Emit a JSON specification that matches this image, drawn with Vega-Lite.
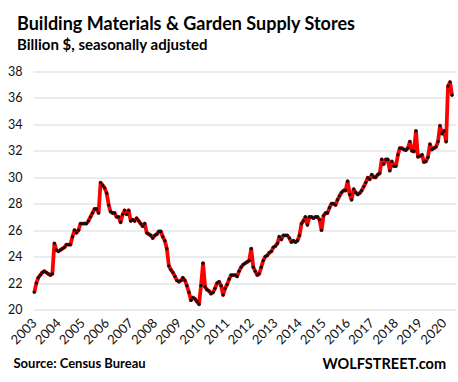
{
  "$schema": "https://vega.github.io/schema/vega-lite/v6.json",
  "width": 423,
  "height": 238,
  "autosize": {"type": "none"},
  "padding": {"left": 33, "top": 71.5, "right": 2, "bottom": 72.5},
  "background": "white",
  "title": {
    "text": "Building Materials & Garden Supply Stores",
    "subtitle": "Billion $, seasonally adjusted",
    "anchor": "start",
    "frame": "group",
    "dx": -16,
    "offset": 13,
    "font": "Lato",
    "fontSize": 18,
    "fontWeight": "bold",
    "color": "#000000",
    "subtitleFont": "Lato",
    "subtitleFontSize": 15,
    "subtitleFontWeight": "bold",
    "subtitleColor": "#000000",
    "subtitlePadding": 4
  },
  "data": {
    "values": [
      {"d":"2003-01","v":21.3},{"d":"2003-02","v":22.0},{"d":"2003-03","v":22.4},{"d":"2003-04","v":22.6},{"d":"2003-05","v":22.8},{"d":"2003-06","v":22.9},{"d":"2003-07","v":22.8},{"d":"2003-08","v":22.7},{"d":"2003-09","v":22.6},{"d":"2003-10","v":22.7},{"d":"2003-11","v":25.0},{"d":"2003-12","v":24.5},
      {"d":"2004-01","v":24.4},{"d":"2004-02","v":24.5},{"d":"2004-03","v":24.6},{"d":"2004-04","v":24.7},{"d":"2004-05","v":24.9},{"d":"2004-06","v":24.9},{"d":"2004-07","v":24.9},{"d":"2004-08","v":25.5},{"d":"2004-09","v":26.0},{"d":"2004-10","v":25.8},{"d":"2004-11","v":26.0},{"d":"2004-12","v":26.5},
      {"d":"2005-01","v":26.5},{"d":"2005-02","v":26.5},{"d":"2005-03","v":26.5},{"d":"2005-04","v":26.7},{"d":"2005-05","v":27.0},{"d":"2005-06","v":27.3},{"d":"2005-07","v":27.6},{"d":"2005-08","v":27.6},{"d":"2005-09","v":27.3},{"d":"2005-10","v":29.6},{"d":"2005-11","v":29.4},{"d":"2005-12","v":29.2},
      {"d":"2006-01","v":28.8},{"d":"2006-02","v":27.9},{"d":"2006-03","v":27.4},{"d":"2006-04","v":27.3},{"d":"2006-05","v":27.3},{"d":"2006-06","v":27.0},{"d":"2006-07","v":27.0},{"d":"2006-08","v":26.6},{"d":"2006-09","v":27.2},{"d":"2006-10","v":27.5},{"d":"2006-11","v":27.2},{"d":"2006-12","v":27.5},
      {"d":"2007-01","v":26.7},{"d":"2007-02","v":26.8},{"d":"2007-03","v":26.7},{"d":"2007-04","v":26.9},{"d":"2007-05","v":26.7},{"d":"2007-06","v":26.5},{"d":"2007-07","v":26.3},{"d":"2007-08","v":26.5},{"d":"2007-09","v":25.8},{"d":"2007-10","v":25.7},{"d":"2007-11","v":25.6},{"d":"2007-12","v":25.4},
      {"d":"2008-01","v":25.6},{"d":"2008-02","v":25.7},{"d":"2008-03","v":25.9},{"d":"2008-04","v":25.9},{"d":"2008-05","v":25.5},{"d":"2008-06","v":25.2},{"d":"2008-07","v":24.6},{"d":"2008-08","v":23.3},{"d":"2008-09","v":23.0},{"d":"2008-10","v":22.8},{"d":"2008-11","v":22.5},{"d":"2008-12","v":22.2},
      {"d":"2009-01","v":22.1},{"d":"2009-02","v":22.2},{"d":"2009-03","v":22.4},{"d":"2009-04","v":22.2},{"d":"2009-05","v":21.8},{"d":"2009-06","v":21.3},{"d":"2009-07","v":20.7},{"d":"2009-08","v":20.9},{"d":"2009-09","v":20.8},{"d":"2009-10","v":20.6},{"d":"2009-11","v":20.4},{"d":"2009-12","v":21.8},
      {"d":"2010-01","v":23.5},{"d":"2010-02","v":21.7},{"d":"2010-03","v":21.5},{"d":"2010-04","v":21.4},{"d":"2010-05","v":21.2},{"d":"2010-06","v":21.3},{"d":"2010-07","v":21.6},{"d":"2010-08","v":22.0},{"d":"2010-09","v":22.1},{"d":"2010-10","v":21.8},{"d":"2010-11","v":21.1},{"d":"2010-12","v":21.6},
      {"d":"2011-01","v":21.9},{"d":"2011-02","v":22.3},{"d":"2011-03","v":22.6},{"d":"2011-04","v":22.6},{"d":"2011-05","v":22.6},{"d":"2011-06","v":22.5},{"d":"2011-07","v":22.9},{"d":"2011-08","v":23.2},{"d":"2011-09","v":23.4},{"d":"2011-10","v":23.5},{"d":"2011-11","v":23.6},{"d":"2011-12","v":23.7},
      {"d":"2012-01","v":24.6},{"d":"2012-02","v":23.2},{"d":"2012-03","v":22.9},{"d":"2012-04","v":22.6},{"d":"2012-05","v":22.7},{"d":"2012-06","v":23.2},{"d":"2012-07","v":23.7},{"d":"2012-08","v":24.0},{"d":"2012-09","v":24.1},{"d":"2012-10","v":24.3},{"d":"2012-11","v":24.4},{"d":"2012-12","v":24.7},
      {"d":"2013-01","v":24.8},{"d":"2013-02","v":25.0},{"d":"2013-03","v":25.5},{"d":"2013-04","v":25.3},{"d":"2013-05","v":25.6},{"d":"2013-06","v":25.6},{"d":"2013-07","v":25.6},{"d":"2013-08","v":25.4},{"d":"2013-09","v":25.1},{"d":"2013-10","v":25.2},{"d":"2013-11","v":25.1},{"d":"2013-12","v":25.2},
      {"d":"2014-01","v":25.6},{"d":"2014-02","v":26.5},{"d":"2014-03","v":26.7},{"d":"2014-04","v":27.0},{"d":"2014-05","v":26.4},{"d":"2014-06","v":27.0},{"d":"2014-07","v":27.0},{"d":"2014-08","v":26.9},{"d":"2014-09","v":27.0},{"d":"2014-10","v":27.0},{"d":"2014-11","v":26.8},{"d":"2014-12","v":26.0},
      {"d":"2015-01","v":27.1},{"d":"2015-02","v":27.3},{"d":"2015-03","v":27.3},{"d":"2015-04","v":27.7},{"d":"2015-05","v":28.0},{"d":"2015-06","v":28.0},{"d":"2015-07","v":27.9},{"d":"2015-08","v":28.3},{"d":"2015-09","v":28.6},{"d":"2015-10","v":28.85},{"d":"2015-11","v":29.0},{"d":"2015-12","v":29.0},
      {"d":"2016-01","v":29.7},{"d":"2016-02","v":28.7},{"d":"2016-03","v":28.3},{"d":"2016-04","v":29.1},{"d":"2016-05","v":28.85},{"d":"2016-06","v":28.7},{"d":"2016-07","v":28.8},{"d":"2016-08","v":29.0},{"d":"2016-09","v":29.3},{"d":"2016-10","v":29.6},{"d":"2016-11","v":29.97},{"d":"2016-12","v":29.85},
      {"d":"2017-01","v":30.2},{"d":"2017-02","v":30.0},{"d":"2017-03","v":30.0},{"d":"2017-04","v":30.2},{"d":"2017-05","v":30.3},{"d":"2017-06","v":31.35},{"d":"2017-07","v":31.0},{"d":"2017-08","v":31.35},{"d":"2017-09","v":31.35},{"d":"2017-10","v":30.5},{"d":"2017-11","v":31.2},{"d":"2017-12","v":30.85},
      {"d":"2018-01","v":30.85},{"d":"2018-02","v":31.7},{"d":"2018-03","v":32.2},{"d":"2018-04","v":32.2},{"d":"2018-05","v":32.1},{"d":"2018-06","v":32.05},{"d":"2018-07","v":32.2},{"d":"2018-08","v":32.7},{"d":"2018-09","v":32.0},{"d":"2018-10","v":31.95},{"d":"2018-11","v":33.5},{"d":"2018-12","v":31.55},
      {"d":"2019-01","v":31.6},{"d":"2019-02","v":31.7},{"d":"2019-03","v":31.15},{"d":"2019-04","v":31.2},{"d":"2019-05","v":31.5},{"d":"2019-06","v":32.5},{"d":"2019-07","v":32.1},{"d":"2019-08","v":32.2},{"d":"2019-09","v":32.3},{"d":"2019-10","v":32.7},{"d":"2019-11","v":33.9},{"d":"2019-12","v":33.3},
      {"d":"2020-01","v":33.5},{"d":"2020-02","v":32.7},{"d":"2020-03","v":36.9},{"d":"2020-04","v":37.2},{"d":"2020-05","v":36.2}
    ]
  },
  "encoding": {
    "x": {
      "field": "d",
      "type": "temporal",
      "scale": {
        "type": "utc",
        "domain": [{"year": 2002, "month": 12, "date": 12, "utc": true}, {"year": 2020, "month": 6, "date": 30, "utc": true}]
      },
      "axis": {
        "values": [
          {"year": 2003, "utc": true},{"year": 2004, "utc": true},{"year": 2005, "utc": true},{"year": 2006, "utc": true},{"year": 2007, "utc": true},{"year": 2008, "utc": true},{"year": 2009, "utc": true},{"year": 2010, "utc": true},{"year": 2011, "utc": true},{"year": 2012, "utc": true},{"year": 2013, "utc": true},{"year": 2014, "utc": true},{"year": 2015, "utc": true},{"year": 2016, "utc": true},{"year": 2017, "utc": true},{"year": 2018, "utc": true},{"year": 2019, "utc": true},{"year": 2020, "utc": true}
        ],
        "format": "%Y",
        "labelAngle": -45,
        "labelAlign": "right",
        "labelBaseline": "middle",
        "labelPadding": 11,
        "labelFont": "Lato",
        "labelFontSize": 13,
        "labelColor": "#111111",
        "labelOverlap": false,
        "grid": false,
        "domain": false,
        "ticks": false,
        "title": "Source: Census Bureau",
        "titleFont": "Lato",
        "titleFontSize": 13,
        "titleFontWeight": "bold",
        "titleColor": "#000000",
        "titleAnchor": "start",
        "titleAlign": "left",
        "titleBaseline": "alphabetic",
        "titleX": -20,
        "titleY": 58
      }
    },
    "y": {
      "field": "v",
      "type": "quantitative",
      "scale": {"domain": [20, 38], "nice": false, "zero": false},
      "axis": {
        "values": [20, 22, 24, 26, 28, 30, 32, 34, 36, 38],
        "labelFont": "Lato",
        "labelFontSize": 12.5,
        "labelColor": "#111111",
        "labelPadding": 11,
        "grid": true,
        "gridColor": "#d9d9d9",
        "gridWidth": 1,
        "domain": false,
        "ticks": false,
        "title": "WOLFSTREET.com",
        "titleFont": "Lato",
        "titleFontSize": 14.5,
        "titleFontWeight": "bold",
        "titleColor": "#000000",
        "titleAngle": 0,
        "titleAlign": "left",
        "titleBaseline": "alphabetic",
        "titleAnchor": null,
        "titleX": 289,
        "titleY": 297
      }
    }
  },
  "layer": [
    {"mark": {"type": "line", "color": "#ff0000", "strokeWidth": 3.8, "strokeJoin": "round"}},
    {"mark": {"type": "point", "filled": true, "color": "#111111", "size": 11, "opacity": 1}}
  ],
  "config": {"view": {"stroke": null}}
}
